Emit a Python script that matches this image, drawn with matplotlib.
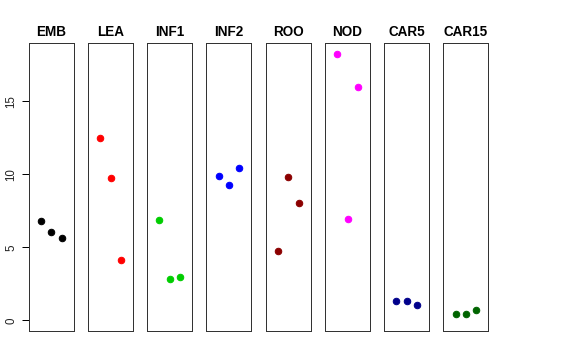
import matplotlib
matplotlib.use('Agg')
import matplotlib.pyplot as plt

plt.rcParams['font.family'] = ['Liberation Sans', 'DejaVu Sans']

tissues = ['EMB', 'LEA', 'INF1', 'INF2', 'ROO', 'NOD', 'CAR5', 'CAR15']
colors = ['black', 'red', '#00CD00', 'blue', '#8B0000', 'magenta', '#00008B', '#006400']
reps = [1, 2, 3]
values = [
    [6.78, 6.03, 5.62],
    [12.45, 9.75, 4.13],
    [6.87, 2.83, 2.97],
    [9.91, 9.27, 10.43],
    [4.75, 9.79, 8.06],
    [18.24, 6.94, 15.96],
    [1.30, 1.30, 1.05],
    [0.46, 0.41, 0.68],
]
yticks = [0, 5, 10, 15]

W, H = 576, 360
fig = plt.figure(figsize=(W / 72, H / 72), dpi=72)

left0, step, pw = 28.5, 59.25, 45
top, bottom = 43, 331
ymax = 18.25
ypad = ymax * 0.04

for i, (name, col, vals) in enumerate(zip(tissues, colors, values)):
    left = left0 + i * step
    ax = fig.add_axes([left / W, (H - bottom) / H, pw / W, (bottom - top) / H])
    ax.plot(reps, vals, 'o', color=col, markersize=6.5, linestyle='none')
    ax.set_xlim(-0.2, 4.14)
    ax.set_ylim(-ypad, ymax + ypad)
    ax.set_xticks([])
    ax.set_title(name, fontsize=13.5, fontweight='bold', pad=7)
    for s in ax.spines.values():
        s.set_color('#333333')
        s.set_linewidth(1)
    if i == 0:
        ax.set_yticks(yticks)
        ax.set_yticklabels([str(t) for t in yticks], rotation=90, va='center', fontsize=11.5, color='#222222')
        ax.tick_params(axis='y', length=7, width=1, pad=4)
    else:
        ax.set_yticks([])

fig.savefig('out.png', dpi=72)
